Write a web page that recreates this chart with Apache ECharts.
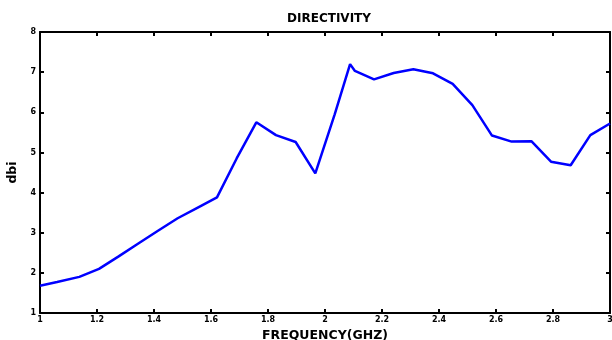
<!DOCTYPE html>
<html lang="en">
<head>
    <meta charset="UTF-8">
    <title>Directivity</title>
    <script src="https://cdn.jsdelivr.net/npm/echarts@6/dist/echarts.min.js"></script>
    <style>
        *{
            margin: 0;
            padding: 0;
        }
        body{
            background-color: #fff;
            overflow: hidden;
        }
    </style>
</head>
<body>
<div id="main" style="width:612px;height:340px;"></div>
<script>
    // frequency (GHz) and directivity (dbi)
    var freq = [1, 1.06, 1.138, 1.207, 1.276, 1.345, 1.414, 1.483, 1.552, 1.621,
        1.69, 1.759, 1.828, 1.897, 1.966, 2.034, 2.088, 2.105, 2.172, 2.241,
        2.31, 2.379, 2.448, 2.517, 2.586, 2.655, 2.724, 2.793, 2.862, 2.931, 3.0];
    var dbi = [1.68, 1.77, 1.90, 2.10, 2.41, 2.73, 3.05, 3.36, 3.62, 3.88,
        4.85, 5.75, 5.43, 5.26, 4.48, 5.95, 7.20, 7.03, 6.82, 6.98,
        7.07, 6.97, 6.71, 6.18, 5.42, 5.27, 5.28, 4.77, 4.68, 5.43, 5.72];
    var xTicks = [1, 1.2, 1.4, 1.6, 1.8, 2, 2.2, 2.4, 2.6, 2.8, 3];
    var yTicks = [1, 2, 3, 4, 5, 6, 7, 8];

    var font = 'DejaVu Sans, sans-serif';
    var boxLine = {show: true, lineStyle: {color: '#000', width: 2}};
    var inTick = {show: true, inside: true, length: 4, lineStyle: {color: '#000', width: 2}};

    var myChart = echarts.init(document.getElementById('main'));
    var option = {
        animation: false,
        title: {
            text: 'DIRECTIVITY',
            left: 324,
            textAlign: 'center',
            top: 8,
            textStyle: {color: '#000', fontSize: 12, fontWeight: 'bold', fontFamily: font}
        },
        grid: {left: 40, right: 2, top: 32, bottom: 27, outerBoundsMode: 'none', containLabel: false},
        xAxis: [{
            type: 'value',
            min: 1, max: 3, interval: 0.2,
            name: 'FREQUENCY(GHZ)',
            nameLocation: 'middle',
            nameGap: 12,
            nameTextStyle: {color: '#000', fontSize: 12.5, fontWeight: 'bold', fontFamily: font},
            axisLine: boxLine,
            axisTick: inTick,
            splitLine: {show: false},
            axisLabel: {
                color: '#000', fontSize: 8, fontWeight: 'bold', fontFamily: font, margin: 3,
                formatter: function (v) {
                    var r = Math.round(v * 10) / 10;
                    return xTicks.indexOf(r) >= 0 ? String(r) : '';
                }
            }
        }, {
            type: 'value', position: 'top',
            min: 1, max: 3, interval: 0.2,
            axisLine: boxLine, axisTick: inTick,
            axisLabel: {show: false}, splitLine: {show: false}
        }],
        yAxis: [{
            type: 'value',
            min: 1, max: 8, interval: 1,
            name: 'dbi',
            nameLocation: 'middle',
            nameGap: 17,
            nameTextStyle: {color: '#000', fontSize: 12.5, fontWeight: 'bold', fontFamily: font},
            axisLine: boxLine,
            axisTick: inTick,
            splitLine: {show: false},
            axisLabel: {
                color: '#000', fontSize: 8, fontWeight: 'bold', fontFamily: font, margin: 4,
                formatter: function (v) {
                    return yTicks.indexOf(v) >= 0 ? String(v) : '';
                }
            }
        }, {
            type: 'value', position: 'right',
            min: 1, max: 8, interval: 1,
            axisLine: boxLine, axisTick: inTick,
            axisLabel: {show: false}, splitLine: {show: false}
        }],
        series: [{
            type: 'line',
            data: freq.map(function (f, i) { return [f, dbi[i]]; }),
            showSymbol: false,
            lineStyle: {color: '#0000ff', width: 2.5},
            clip: true
        }]
    };
    myChart.setOption(option);
</script>
</body>
</html>
